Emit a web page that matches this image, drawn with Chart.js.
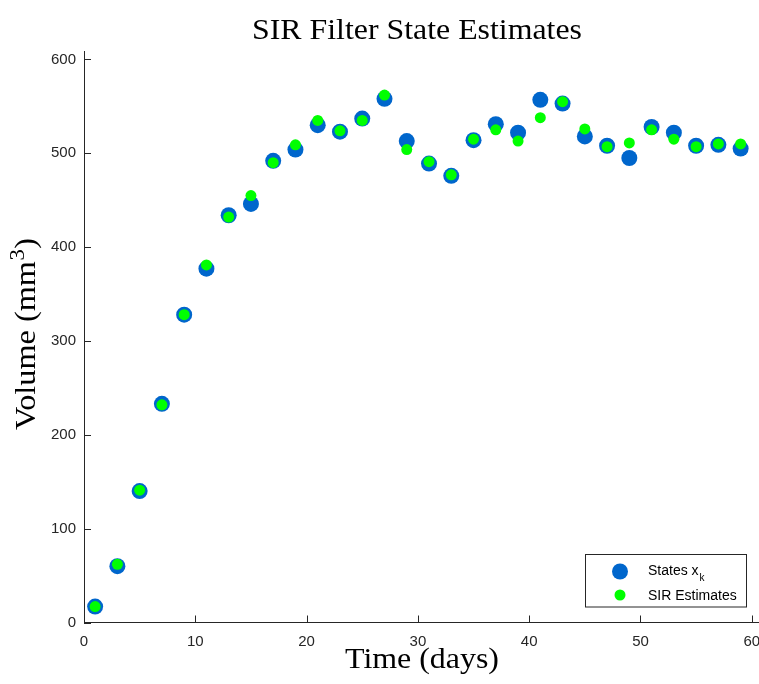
<!DOCTYPE html>
<html>
<head>
<meta charset="utf-8">
<title>SIR Filter State Estimates</title>
<script src="https://cdn.jsdelivr.net/npm/chart.js@4/dist/chart.umd.min.js"></script>
<style>
  html, body { margin: 0; padding: 0; background: #ffffff; }
  #wrap { width: 759px; height: 684px; }
</style>
</head>
<body>
<div id="wrap"><canvas id="c" width="759" height="684"></canvas></div>
<script>
// Observation days
const days = [1, 3, 5, 7, 9, 11, 13, 15, 17, 19, 21, 23, 25, 27, 29,
              31, 33, 35, 37, 39, 41, 43, 45, 47, 49, 51, 53, 55, 57, 59];
// True tumour volume states x_k (mm^3)
const statesX = [17, 60, 140, 233, 328, 377, 434, 446, 492, 504, 530, 523, 537, 558, 513,
                 489, 476, 514, 531, 522, 557, 553, 518, 508, 495, 528, 522, 508, 509, 505];
// SIR particle filter estimates (mm^3)
const sirEstimates = [17, 62, 141, 232, 328, 381, 432, 455, 490, 509, 535, 524, 535, 562, 504,
                      491, 477, 515, 525, 513, 538, 555, 526, 507, 511, 525, 515, 507, 510, 510];
// Axis ticks
const xTicks = [0, 10, 20, 30, 40, 50, 60];
const yTicks = [0, 100, 200, 300, 400, 500, 600];

const AXIS = '#262626';
const BLUE = '#0066cc';
const GREEN = '#00ff00';
const SERIF = '"Liberation Serif", "Times New Roman", serif';
const SANS = '"Liberation Sans", Arial, Helvetica, sans-serif';

// Draw serif text squeezed/stretched to a given width
function fitText(ctx, text, x, y, width, size) {
  ctx.save();
  ctx.font = size + 'px ' + SERIF;
  const w = ctx.measureText(text).width;
  ctx.translate(x, y);
  ctx.scale(width / w, 1);
  ctx.textAlign = 'center';
  ctx.textBaseline = 'alphabetic';
  ctx.fillText(text, 0, 0);
  ctx.restore();
}

const decorations = {
  id: 'decorations',
  beforeDatasetsDraw(chart) {
    const ctx = chart.ctx;
    const area = chart.chartArea;
    const xs = chart.scales.x, ys = chart.scales.y;
    ctx.save();
    ctx.strokeStyle = AXIS;
    ctx.lineWidth = 1;
    ctx.beginPath();
    xTicks.forEach(v => {
      const px = Math.round(xs.getPixelForValue(v)) + 0.5;
      ctx.moveTo(px, area.bottom);
      ctx.lineTo(px, area.bottom - 7);
    });
    yTicks.forEach(v => {
      const py = Math.round(ys.getPixelForValue(v)) + 0.5;
      ctx.moveTo(area.left, py);
      ctx.lineTo(area.left + 7, py);
    });
    ctx.stroke();
    ctx.restore();
  },
  afterDraw(chart) {
    const ctx = chart.ctx;
    ctx.save();
    ctx.fillStyle = '#000000';
    // Title and x-axis label
    fitText(ctx, 'SIR Filter State Estimates', 417, 38.5, 330, 30);
    fitText(ctx, 'Time (days)', 422, 667.5, 154, 30);

    // y-axis label with superscript
    ctx.save();
    ctx.translate(35, 334);
    ctx.rotate(-Math.PI / 2);
    const big = '30px ' + SERIF, small = '21px ' + SERIF;
    ctx.font = big;
    const a = 'Volume (mm', c = ')';
    const wa = ctx.measureText(a).width, wc = ctx.measureText(c).width;
    ctx.font = small;
    const wb = ctx.measureText('3').width;
    const total = wa + wb + wc + 1;
    const sx = 192 / total;
    ctx.scale(sx, 1);
    ctx.textAlign = 'left';
    ctx.textBaseline = 'alphabetic';
    let x0 = -total / 2;
    ctx.font = big; ctx.fillText(a, x0, 0); x0 += wa;
    ctx.font = small; ctx.fillText('3', x0 + 0.5, -11); x0 += wb + 1;
    ctx.font = big; ctx.fillText(c, x0, 0);
    ctx.restore();

    // Legend box
    const L = 585.5, T = 554.5, W = 161, H = 52.5;
    ctx.fillStyle = '#ffffff';
    ctx.fillRect(L, T, W, H);
    ctx.strokeStyle = AXIS;
    ctx.lineWidth = 1;
    ctx.strokeRect(L, T, W, H);
    ctx.fillStyle = BLUE;
    ctx.beginPath(); ctx.arc(620, 571.5, 8, 0, Math.PI * 2); ctx.fill();
    ctx.fillStyle = GREEN;
    ctx.beginPath(); ctx.arc(620, 595, 5.5, 0, Math.PI * 2); ctx.fill();
    ctx.fillStyle = '#000000';
    ctx.textAlign = 'left';
    ctx.textBaseline = 'alphabetic';
    ctx.font = '14px ' + SANS;
    const s1 = 'States x';
    ctx.fillText(s1, 648, 574.5);
    const ws1 = ctx.measureText(s1).width;
    ctx.font = '10px ' + SANS;
    ctx.fillText('k', 648 + ws1 + 1, 580.5);
    ctx.font = '14px ' + SANS;
    ctx.fillText('SIR Estimates', 648, 600);
    ctx.restore();
  }
};

const toPoints = (ys) => days.map((d, i) => ({ x: d, y: ys[i] }));

new Chart(document.getElementById('c'), {
  type: 'scatter',
  data: {
    datasets: [
      {
        label: 'States x_k',
        data: toPoints(statesX),
        backgroundColor: BLUE,
        borderWidth: 0,
        pointRadius: 8,
        pointHoverRadius: 8,
        order: 2
      },
      {
        label: 'SIR Estimates',
        data: toPoints(sirEstimates),
        backgroundColor: GREEN,
        borderWidth: 0,
        pointRadius: 5.5,
        pointHoverRadius: 5.5,
        order: 1
      }
    ]
  },
  options: {
    responsive: false,
    animation: false,
    events: [],
    layout: { autoPadding: false, padding: { top: 51, right: 0, bottom: 0, left: 0 } },
    plugins: {
      legend: { display: false },
      title: { display: false },
      tooltip: { enabled: false }
    },
    scales: {
      x: {
        type: 'linear',
        min: 0,
        max: 60.65,
        afterFit(scale) {
          scale.height = 61.5;
          scale.paddingLeft = 0;
          scale.paddingRight = 0;
        },
        afterBuildTicks(scale) { scale.ticks = xTicks.map(v => ({ value: v })); },
        grid: { display: false, drawTicks: false },
        border: { display: true, color: AXIS, width: 1 },
        ticks: {
          color: AXIS,
          padding: 10,
          maxRotation: 0,
          autoSkip: false,
          font: { family: SANS, size: 15 }
        }
      },
      y: {
        type: 'linear',
        min: 0,
        max: 609,
        afterFit(scale) {
          scale.width = 84;
          scale.paddingTop = 0;
          scale.paddingBottom = 0;
        },
        afterBuildTicks(scale) { scale.ticks = yTicks.map(v => ({ value: v })); },
        grid: { display: false, drawTicks: false },
        border: { display: true, color: AXIS, width: 1 },
        ticks: {
          color: AXIS,
          padding: 8,
          autoSkip: false,
          font: { family: SANS, size: 15 }
        }
      }
    }
  },
  plugins: [decorations]
});
</script>
</body>
</html>
